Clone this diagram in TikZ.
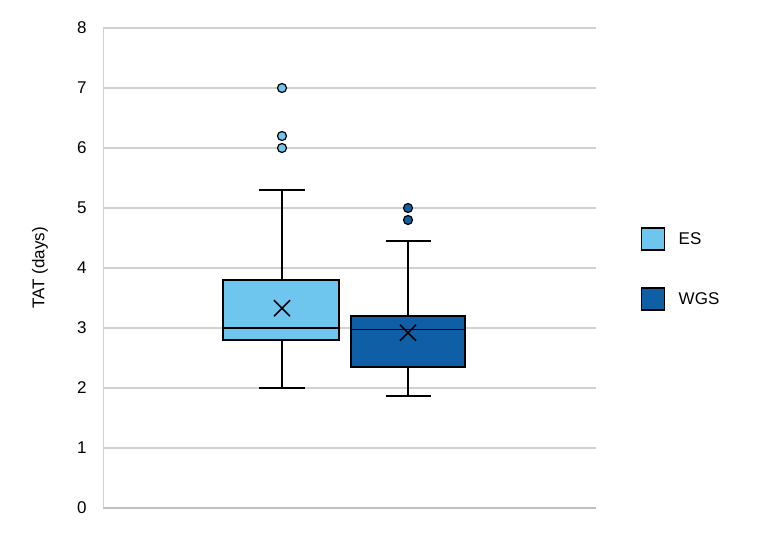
\documentclass[tikz,border=0pt]{standalone}
\usepackage{fontspec}
\setmainfont{Liberation Sans}
\usetikzlibrary{positioning}
\definecolor{esblue}{HTML}{6EC6EE}
\definecolor{wgsblue}{HTML}{0F5FA6}
\tikzset{grid/.style={draw=black!18,line width=1.5pt},
  boxst/.style={draw=black,line width=1.4pt},
  wisk/.style={black,line width=1.4pt},
  outl/.style={circle,draw=black,line width=1.2pt,minimum size=9pt,inner sep=0pt},
  mean/.style={black,line width=1.6pt},
  lab/.style={font=\fontsize{17}{17}\selectfont}}
\newcommand{\yv}[1]{508-60*#1}
\begin{document}
\begin{tikzpicture}[x=1pt,y=-1pt]
\useasboundingbox (0,0) rectangle (768,541);
% grid and axis
\foreach \v in {1,...,8}
  \draw[grid] (103,{\yv{\v}}) -- (596,{\yv{\v}});
\draw[black!25,line width=1.5pt] (103,508) -- (596,508);
\draw[black!18,line width=1pt] (103,508) -- (103,28);
\foreach \v in {0,...,8}
  \node[lab,anchor=east] (t\v) at (90,{\yv{\v}}) {\v};
\node[lab,rotate=90] (ylab) at (40,268) {TAT (days)};
% ES
\draw[wisk] (282,{\yv{2.0}}) -- (282,{\yv{5.3}});
\draw[wisk] (259,{\yv{2.0}}) -- (305,{\yv{2.0}});
\draw[wisk] (259,{\yv{5.3}}) -- (305,{\yv{5.3}});
\filldraw[boxst,fill=esblue] (223,{\yv{2.8}}) rectangle (339,{\yv{3.8}});
\draw[boxst] (223,{\yv{3.0}}) -- (339,{\yv{3.0}});
\draw[mean] (274,{\yv{3.33}-8}) -- (290,{\yv{3.33}+8}) (274,{\yv{3.33}+8}) -- (290,{\yv{3.33}-8});
\foreach \o in {6.0,6.2,7.0}
  \node[outl,fill=esblue] at (282,{\yv{\o}}) {};
% WGS
\draw[wisk] (408,{\yv{1.87}}) -- (408,{\yv{4.45}});
\draw[wisk] (386,{\yv{1.87}}) -- (431,{\yv{1.87}});
\draw[wisk] (386,{\yv{4.45}}) -- (431,{\yv{4.45}});
\filldraw[boxst,fill=wgsblue] (351,{\yv{2.35}}) rectangle (465,{\yv{3.2}});
\draw[boxst] (351,{\yv{2.98}}) -- (465,{\yv{2.98}});
\draw[mean] (400,{\yv{2.92}-8}) -- (416,{\yv{2.92}+8}) (400,{\yv{2.92}+8}) -- (416,{\yv{2.92}-8});
\foreach \o in {4.8,5.0}
  \node[outl,fill=wgsblue] at (408,{\yv{\o}}) {};
% legend
\node[boxst,fill=esblue,minimum width=23pt,minimum height=22pt,inner sep=0pt] (kes) at (653,239) {};
\node[lab,right=10pt of kes] (les) {ES};
\node[boxst,fill=wgsblue,minimum width=23pt,minimum height=22pt,inner sep=0pt] (kwgs) at (653,299) {};
\node[lab,right=10pt of kwgs] (lwgs) {WGS};
\end{tikzpicture}
\end{document}
